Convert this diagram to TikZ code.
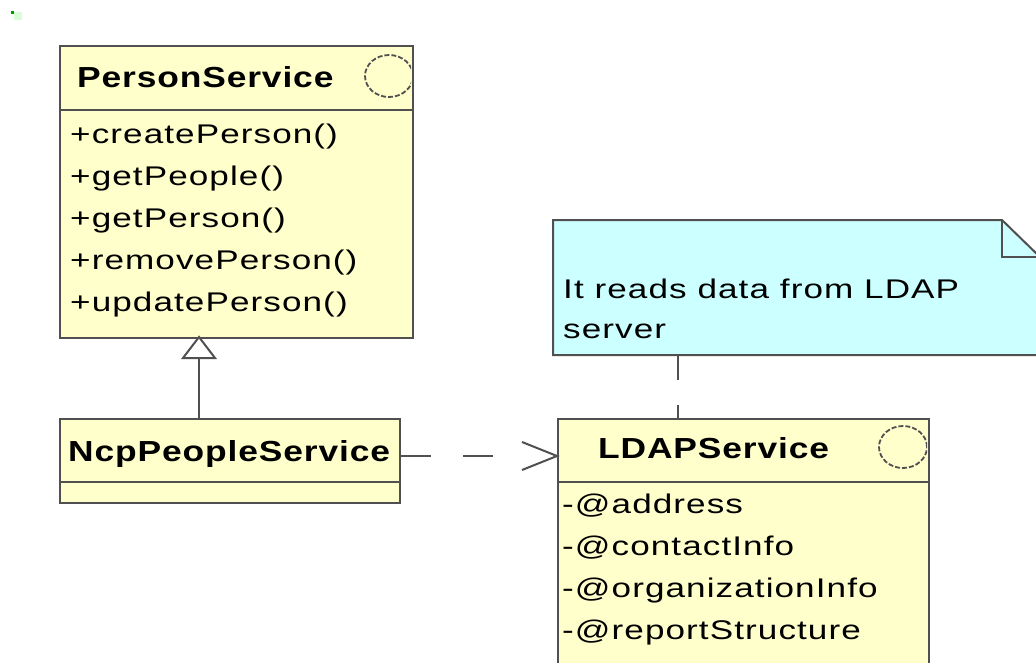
\documentclass[tikz,border=0pt]{standalone}
\usepackage{fontspec}
\setmainfont{Liberation Sans}
\newfontfamily\umlfont[FakeStretch=1.3, LetterSpace=4]{Liberation Sans}
\newfontfamily\umlbold[FakeStretch=1.22, LetterSpace=3]{Liberation Sans Bold}
\usetikzlibrary{arrows.meta}
\definecolor{classfill}{HTML}{FFFFCC}
\definecolor{notefill}{HTML}{CCFFFF}
\definecolor{edge}{HTML}{505050}
\tikzset{
  umlbox/.style={draw=edge, line width=2pt, fill=classfill, anchor=north west, inner sep=0pt},
  divider/.style={draw=edge, line width=2pt},
  title/.style={anchor=base west, inner sep=0pt, font=\umlbold\fontsize{29}{34}\selectfont, text=black},
  member/.style={anchor=base west, inner sep=0pt, font=\umlfont\fontsize{27}{34}\selectfont, text=black},
  icon/.style={draw=edge, line width=1.8pt, dash pattern=on 5pt off 2pt},
  link/.style={draw=edge, line width=2pt},
}
\begin{document}
\begin{tikzpicture}[x=1pt,y=-1pt]
\useasboundingbox (0,0) rectangle (1036,662);
\clip (0,0) rectangle (1036,662);
\fill[white] (0,0) rectangle (1036,662);
% small mark top-left
\fill[green!60!black] (11,11) rectangle (14,14);
\fill[green!15] (14,12) rectangle (22,20);

% PersonService
\node[umlbox, minimum width=353pt, minimum height=292pt] (ps) at (59,45) {};
\draw[divider] (59,110) -- (412,110);
\begin{scope}
\clip (59,45) rectangle (411,110);
\draw[icon] (389,76) ellipse (24pt and 21pt);
\end{scope}
\node[title] (pst) at (77,87) {PersonService};
\node[member] (m1) at (70,143) {+createPerson()};
\node[member] (m2) at (70,185) {+getPeople()};
\node[member] (m3) at (70,227) {+getPerson()};
\node[member] (m4) at (70,269) {+removePerson()};
\node[member] (m5) at (70,311) {+updatePerson()};

% NcpPeopleService
\node[umlbox, minimum width=340pt, minimum height=84pt] (ncp) at (59,418) {};
\draw[divider] (59,482) -- (399,482);
\node[title] (ncpt) at (68,461) {NcpPeopleService};

% LDAPService
\node[umlbox, minimum width=371pt, minimum height=270pt] (ldap) at (557,418) {};
\draw[divider] (557,482) -- (928,482);
\begin{scope}
\clip (557,418) rectangle (927,482);
\draw[icon] (903,447) ellipse (24pt and 21pt);
\end{scope}
\node[title] (ldapt) at (598,458) {LDAPService};
\node[member] (a1) at (562,513) {-@address};
\node[member] (a2) at (562,555) {-@contactInfo};
\node[member] (a3) at (562,597) {-@organizationInfo};
\node[member] (a4) at (562,639) {-@reportStructure};

% Note
\draw[line width=2pt, draw=edge, fill=notefill] (553,220) -- (1002,220) -- (1040,257) -- (1040,355) -- (553,355) -- cycle;
\draw[line width=2pt, draw=edge] (1002,220) -- (1002,257) -- (1040,257);
\node[anchor=north west, minimum width=487pt, minimum height=135pt, inner sep=0pt] (note) at (553,220) {};
\node[member] (n1) at (563,298) {It reads data from LDAP};
\node[member] (n2) at (563,338) {server};

% connectors
\coordinate (gx) at (199,0);
\draw[link] (ncp.north -| gx) -- (199,358);
\draw[link, fill=white] (199,337) -- (215,358) -- (183,358) -- cycle;

\draw[link, dash pattern=on 30pt off 32pt] (ncp.east |- 0,456) -- (522,456);
\draw[link] (522,442) -- (ldap.west |- 0,456) -- (522,470);

\coordinate (nx) at (678,0);
\draw[link, dash pattern=on 25pt off 25pt] (note.south -| nx) -- (ldap.north -| nx);
\end{tikzpicture}
\end{document}
